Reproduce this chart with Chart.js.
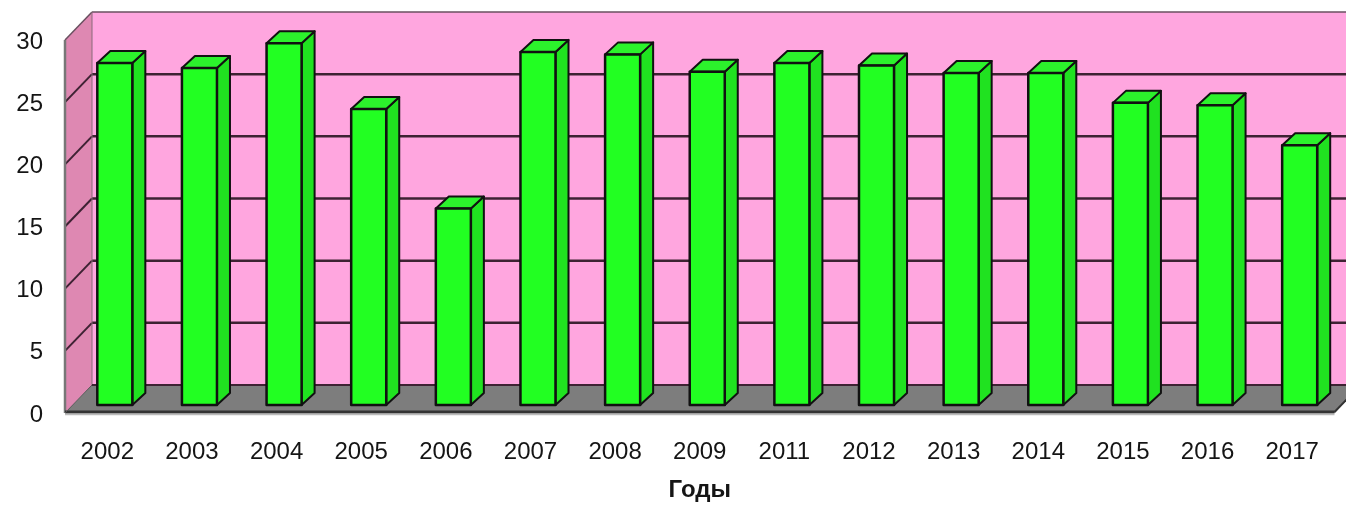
<!DOCTYPE html>
<html><head><meta charset="utf-8">
<script src="https://cdn.jsdelivr.net/npm/chart.js@4.4.1/dist/chart.umd.min.js"></script>
<style>html,body{margin:0;padding:0;background:#fff;overflow:hidden}#wrap{width:1346px;height:506px;position:relative}</style>
</head><body><div id="wrap"><canvas id="c"></canvas></div>
<script>
const categories = ['2002','2003','2004','2005','2006','2007','2008','2009','2011','2012','2013','2014','2015','2016','2017'];
const values = [27.5, 27.1, 29.1, 23.8, 15.8, 28.4, 28.2, 26.8, 27.5, 27.3, 26.7, 26.7, 24.3, 24.1, 20.9];
const yTicks = [0, 5, 10, 15, 20, 25, 30];
const axisTitle = 'Годы';

const FONT = "'Liberation Sans', Arial, sans-serif";
const WALL_DX = 27, WALL_DY = -28;   // depth of the box
const BAR_OX = 7.5, BAR_OY = -8;     // bar front offset from front plane
const BAR_DX = 13, BAR_DY = -12;     // bar depth

function poly(ctx, pts, fill, stroke, lw) {
  ctx.beginPath();
  ctx.moveTo(pts[0][0], pts[0][1]);
  for (let i = 1; i < pts.length; i++) ctx.lineTo(pts[i][0], pts[i][1]);
  ctx.closePath();
  if (fill) { ctx.fillStyle = fill; ctx.fill(); }
  if (stroke) { ctx.strokeStyle = stroke; ctx.lineWidth = lw; ctx.stroke(); }
}
function line(ctx, x1, y1, x2, y2, color, lw) {
  ctx.beginPath(); ctx.moveTo(x1, y1); ctx.lineTo(x2, y2);
  ctx.strokeStyle = color; ctx.lineWidth = lw; ctx.stroke();
}

const decor = {
  id: 'decor',
  beforeDatasetsDraw(chart) {
    const ctx = chart.ctx, ys = chart.scales.y, a = chart.chartArea;
    const L = a.left, R = a.right;
    const y0 = ys.getPixelForValue(yTicks[0]);
    const yTop = ys.getPixelForValue(yTicks[yTicks.length - 1]);
    ctx.save();
    ctx.lineJoin = 'round';
    // back wall
    poly(ctx, [[L + WALL_DX, yTop + WALL_DY], [R + WALL_DX + 20, yTop + WALL_DY], [R + WALL_DX + 20, y0 + WALL_DY], [L + WALL_DX, y0 + WALL_DY]], '#ffa6df');
    // side wall
    poly(ctx, [[L, y0], [L, yTop], [L + WALL_DX, yTop + WALL_DY], [L + WALL_DX, y0 + WALL_DY]], '#de88b2');
    // gridlines
    yTicks.forEach(v => {
      if (v === yTicks[0] || v === yTicks[yTicks.length - 1]) return;
      const y = ys.getPixelForValue(v);
      line(ctx, L + WALL_DX, y + WALL_DY, R + WALL_DX + 20, y + WALL_DY, '#3e2233', 2.5);
      line(ctx, L, y, L + WALL_DX, y + WALL_DY, '#3e2233', 2);
    });
    // top edges
    line(ctx, L + WALL_DX, yTop + WALL_DY, R + WALL_DX + 20, yTop + WALL_DY, '#6a5060', 1.5);
    line(ctx, L, yTop, L + WALL_DX, yTop + WALL_DY, '#6a5060', 1.5);
    line(ctx, L + WALL_DX, yTop + WALL_DY, L + WALL_DX, y0 + WALL_DY, '#8a6a7a', 1);
    line(ctx, L, yTop, L, y0, '#777', 2.5);
    // floor
    poly(ctx, [[L, y0], [R, y0], [R + WALL_DX, y0 + WALL_DY], [L + WALL_DX, y0 + WALL_DY]], '#7d7d7d');
    line(ctx, L + WALL_DX, y0 + WALL_DY, R + WALL_DX + 20, y0 + WALL_DY, '#3e2233', 2);
    line(ctx, L, y0 - 1, R, y0 - 1, '#333', 3);
    line(ctx, L, y0 + 1.5, R, y0 + 1.5, '#bbb', 1.5);
    line(ctx, R, y0 - 1, R + WALL_DX, y0 + WALL_DY - 1, '#333', 2);
    line(ctx, L, y0, L + WALL_DX, y0 + WALL_DY, '#555', 1);
    ctx.restore();
  },
  afterDatasetsDraw(chart) {
    const ctx = chart.ctx;
    const meta = chart.getDatasetMeta(0);
    ctx.save();
    ctx.lineJoin = 'round';
    meta.data.forEach(el => {
      const p = el.getProps(['x', 'y', 'base', 'width'], true);
      const l = p.x - p.width / 2 + BAR_OX, r = p.x + p.width / 2 + BAR_OX;
      const t = p.y + BAR_OY, b = p.base + BAR_OY;
      poly(ctx, [[r, t], [r + BAR_DX, t + BAR_DY], [r + BAR_DX, b + BAR_DY], [r, b]], '#20e220', '#111', 2);
      poly(ctx, [[l, t], [l + BAR_DX, t + BAR_DY], [r + BAR_DX, t + BAR_DY], [r, t]], '#2cf22c', '#111', 2);
      poly(ctx, [[l, t], [r, t], [r, b], [l, b]], '#22ff22', '#111', 2.5);
    });
    ctx.restore();
  }
};

new Chart(document.getElementById('c'), {
  type: 'bar',
  data: {
    labels: categories,
    datasets: [{
      data: values,
      backgroundColor: 'rgba(0,0,0,0)',
      borderWidth: 0,
      categoryPercentage: 1,
      barPercentage: 0.414
    }]
  },
  options: {
    responsive: true,
    maintainAspectRatio: false,
    animation: false,
    layout: { padding: { top: 40, right: 11.5, left: 0, bottom: 0 } },
    plugins: { legend: { display: false }, tooltip: { enabled: false } },
    scales: {
      x: {
        offset: true,
        grid: { display: false, drawTicks: false },
        border: { display: false },
        ticks: { font: { family: FONT, size: 24 }, color: '#151515', padding: 25, maxRotation: 0, autoSkip: false },
        title: { display: true, text: axisTitle, font: { family: FONT, size: 24, weight: 'bold' }, color: '#151515', padding: { top: 0, bottom: 1 } },
        afterFit(s) { s.height = 93; }
      },
      y: {
        min: yTicks[0], max: yTicks[yTicks.length - 1],
        afterBuildTicks(s) { s.ticks = yTicks.map(v => ({ value: v })); },
        grid: { display: false, drawTicks: false },
        border: { display: false },
        ticks: { font: { family: FONT, size: 24 }, color: '#151515', padding: 22, labelOffset: 2 },
        afterFit(s) { s.width = 65; }
      }
    }
  },
  plugins: [decor]
});
</script>
</body></html>
